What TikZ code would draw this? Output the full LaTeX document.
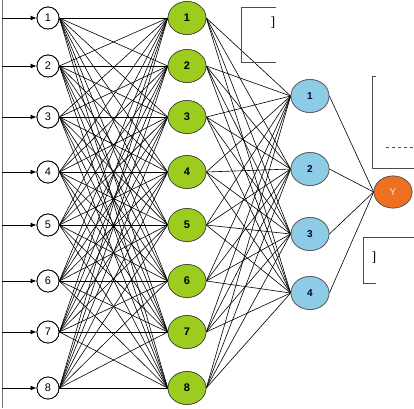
\documentclass[tikz,border=0pt]{standalone}
\usepackage{fontspec}
\setmainfont{Liberation Sans}
\newfontfamily\bracketfont{Liberation Serif}
\usetikzlibrary{shapes.geometric,arrows.meta}

\definecolor{leafgreen}{RGB}{156,204,30}
\definecolor{skyblue}{RGB}{140,204,230}
\definecolor{burntorange}{RGB}{238,112,32}

\tikzset{
  innode/.style={circle,draw,line width=0.8pt,fill=white,minimum size=22pt,inner sep=0pt,font=\fontsize{11}{11}\selectfont},
  hidone/.style={ellipse,draw=black!75,line width=0.6pt,fill=leafgreen,minimum width=38pt,minimum height=33pt,inner sep=0pt,font=\fontsize{11}{11}\selectfont\bfseries},
  hidtwo/.style={ellipse,draw=black!65,line width=0.7pt,fill=skyblue,minimum width=38pt,minimum height=33pt,inner sep=0pt,text=black!75!blue,font=\fontsize{10}{10}\selectfont\bfseries},
  outnode/.style={ellipse,draw=black!65,line width=0.7pt,fill=burntorange,minimum width=38pt,minimum height=32pt,inner sep=0pt,text=white!80!orange,font=\fontsize{10}{10}\selectfont},
  wire/.style={line width=0.6pt},
  feed/.style={line width=0.9pt,-{Latex[length=6pt,width=5pt]}},
  frame/.style={line width=0.8pt,draw=black!70},
  bracket/.style={font=\bracketfont\fontsize{14}{14}\selectfont}
}

\begin{document}
\begin{tikzpicture}[x=1pt,y=-1pt]
\useasboundingbox (0,0) rectangle (414,408);

% input rail
\draw[line width=1pt,black!55] (2,0) -- (2,408);

% layers
\foreach \i/\yy in {1/18,2/66,3/117,4/172,5/225,6/281,7/332,8/388}{
  \coordinate (s\i) at (2,\yy);
  \node[innode] (x\i) at (48,\yy) {\i};
  \node[hidone] (h\i) at (187,\yy) {\i};
}
\foreach \j/\yy in {1/96,2/169,3/234,4/293}
  \node[hidtwo] (g\j) at (310,\yy) {\j};
\node[outnode] (out) at (393,192) {Y};

% inputs
\foreach \i in {1,...,8}
  \draw[feed] (s\i) -- (x\i.west);

% weights
\foreach \i in {1,...,8}
  \foreach \k in {1,...,8}
    \draw[wire] (x\i.east) -- (h\k.west);
\foreach \k in {1,...,8}
  \foreach \j in {1,...,4}
    \draw[wire] (h\k.east) -- (g\j.west);
\foreach \j in {1,...,4}
  \draw[wire] (g\j.east) -- (out.west);

% redraw nodes on top
\foreach \i/\yy in {1/18,2/66,3/117,4/172,5/225,6/281,7/332,8/388}{
  \node[innode] at (48,\yy) {\i};
  \node[hidone] at (187,\yy) {\i};
}
\foreach \j/\yy in {1/96,2/169,3/234,4/293}
  \node[hidtwo] at (310,\yy) {\j};
\node[outnode] at (393,192) {Y};

% side boxes
\draw[frame] (276,7) -- (241,7) -- (241,62) -- (276,62);
\node[bracket] (ba) at (273,23) {]};
\draw[frame] (376,76) -- (372,76) -- (372,168) -- (414,168);
\draw[line width=0.6pt,dashed,black!70] (386,147) -- (414,147);
\draw[frame] (414,237) -- (363,237) -- (363,283) -- (376,283);
\node[bracket] (bc) at (374,258) {]};
\end{tikzpicture}
\end{document}
